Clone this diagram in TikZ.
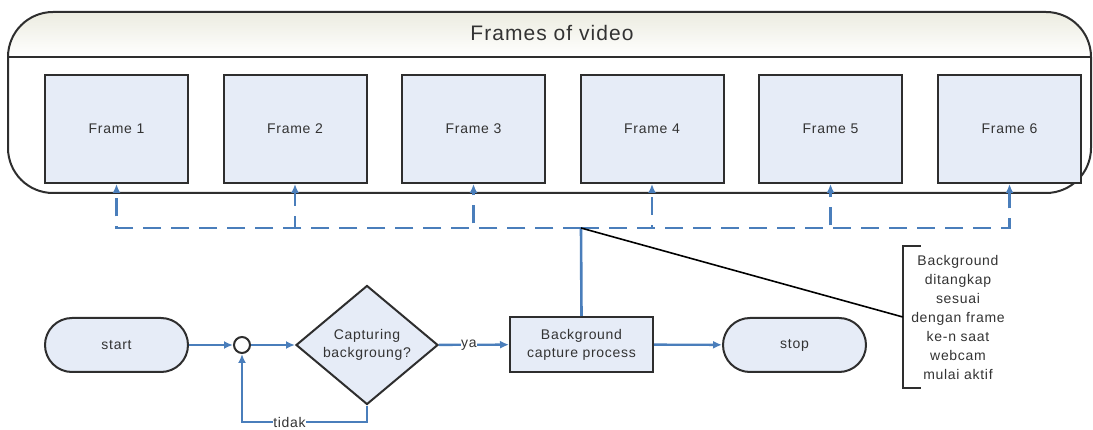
\documentclass[tikz,border=0pt]{standalone}
\usepackage{fontspec}
\setmainfont{Liberation Sans}[LetterSpace=5]
\usetikzlibrary{shapes.geometric,arrows.meta,calc}

\definecolor{flowblue}{HTML}{4A7EBB}
\definecolor{boxfill}{HTML}{E6ECF7}
\definecolor{edgegray}{HTML}{2E2E2E}
\definecolor{ink}{HTML}{333333}
\definecolor{headtop}{HTML}{ECECE0}

\begin{document}
\begin{tikzpicture}[x=1pt,y=-1pt,
  font=\fontsize{14}{18}\selectfont, text=ink,
  outline/.style={draw=edgegray, line width=2pt},
  framebox/.style={outline, fill=boxfill, minimum width=143pt, minimum height=108pt, inner sep=0pt},
  stepbox/.style={outline, fill=boxfill, minimum width=143pt, minimum height=55pt, inner sep=0pt, align=center},
  pill/.style={outline, fill=boxfill, rounded corners=27pt, minimum width=143pt, minimum height=54pt, inner sep=0pt},
  decision/.style={outline, fill=boxfill, diamond, minimum width=142pt, minimum height=106pt, inner sep=0pt, align=center},
  joint/.style={outline, fill=white, circle, minimum size=16pt, inner sep=0pt},
  flow/.style={draw=flowblue, line width=2.4pt, -{Latex[length=9pt,width=8pt]}},
  link/.style={draw=flowblue, line width=2.6pt},
  dashflow/.style={flow, dash pattern=on 18pt off 10pt},
  lbl/.style={fill=white, inner sep=0.5pt, text=ink},
  notebox/.style={align=center, text width=110pt, minimum height=142pt, inner sep=0pt,
                  font=\fontsize{14}{19}\selectfont},
  bracket/.style={draw=edgegray, line width=2pt},
  callout/.style={draw=black, line width=1.6pt}
]
\useasboundingbox (0,0) rectangle (1093,430);

% container with shaded title band
\begin{scope}
  \clip[rounded corners=45pt] (8,12) rectangle (1091,193);
  \shade[top color=headtop, bottom color=white] (8,12) rectangle (1091,57);
\end{scope}
\node[outline, rounded corners=45pt, minimum width=1083pt, minimum height=181pt, inner sep=0pt]
  (video) at (549.5,102.5) {};
\draw[outline] (video.west |- 0,57) -- (video.east |- 0,57);
\node[font=\fontsize{21}{24}\selectfont] (title) at (552,33) {Frames of video};

% the six frames
\node[framebox] (f1) at (116.5,129) {Frame 1};
\node[framebox] (f2) at (295,129) {Frame 2};
\node[framebox] (f3) at (473.5,129) {Frame 3};
\node[framebox] (f4) at (652,129) {Frame 4};
\node[framebox] (f5) at (830.5,129) {Frame 5};
\node[framebox] (f6) at (1009.5,129) {Frame 6};

% main flow
\node[pill] (start) at (116.5,345) {start};
\node[joint] (join) at (242,345) {};
\node[decision] (dec) at (367,345) {Capturing\\backgroung?};
\node[stepbox] (bcp) at (581.5,344.5) {Background\\capture process};
\node[pill] (stop) at (794.5,345) {stop};

% note
\node[notebox] (note) at (958,317)
  {Background\\ditangkap\\sesuai\\dengan frame\\ke-n saat\\webcam\\mulai aktif};
\draw[bracket] ([xshift=18pt]note.north west) -- (note.north west)
  -- (note.south west) -- ([xshift=18pt]note.south west);

\coordinate (hub) at (581,228);
\coordinate (loopR) at (367,422);
\coordinate (loopL) at (242,422);

% capture distribution to frames
\foreach \i in {1,...,6} {
  \draw[dashflow] (hub) -| (f\i.south);
}
\draw[link] (bcp.north) -- (hub);
\draw[callout] (hub) -- (note.west);

% flow connectors
\draw[flow] (start) -- (join);
\draw[flow] (join) -- (dec);
\draw[flow] (dec) -- node[lbl, pos=0.43] {ya} (bcp);
\draw[flow] (bcp) -- (stop);
\draw[flow] (dec.south) -- (loopR) -- node[lbl, pos=0.62] {tidak} (loopL) -- (join.south);
\end{tikzpicture}
\end{document}
